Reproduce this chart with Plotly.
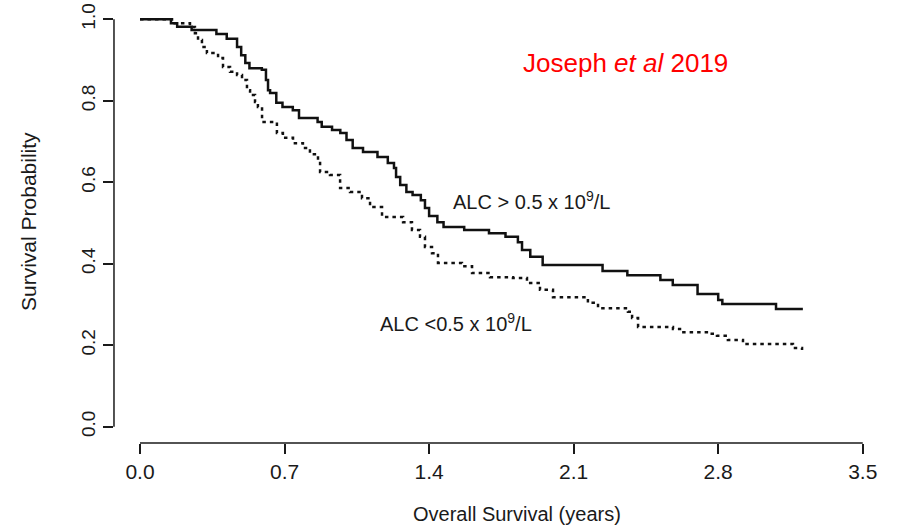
import plotly.graph_objects as go

# Kaplan-Meier step data (time in years, survival probability)
high_t = [0, 0.15, 0.18, 0.25, 0.37, 0.42, 0.47, 0.49, 0.51, 0.53, 0.59, 0.61, 0.62, 0.63,
          0.66, 0.69, 0.74, 0.77, 0.86, 0.88, 0.93, 0.97, 1.00, 1.03, 1.08, 1.15, 1.20,
          1.23, 1.24, 1.26, 1.29, 1.32, 1.36, 1.38, 1.40, 1.44, 1.47, 1.57, 1.69, 1.77,
          1.83, 1.85, 1.89, 1.95, 2.24, 2.36, 2.52, 2.58, 2.70, 2.80, 2.82, 3.08, 3.21]
high_s = [1.0, 0.990, 0.982, 0.974, 0.964, 0.952, 0.932, 0.912, 0.893, 0.880, 0.876, 0.851,
          0.826, 0.819, 0.795, 0.785, 0.777, 0.758, 0.748, 0.736, 0.728, 0.721, 0.704, 0.684,
          0.674, 0.662, 0.647, 0.635, 0.613, 0.593, 0.576, 0.569, 0.556, 0.537, 0.517, 0.502,
          0.490, 0.483, 0.475, 0.466, 0.453, 0.434, 0.417, 0.397, 0.382, 0.372, 0.360, 0.348,
          0.326, 0.311, 0.301, 0.289, 0.289]

low_t = [0, 0.155, 0.242, 0.266, 0.281, 0.300, 0.324, 0.378, 0.402, 0.436, 0.470, 0.494,
         0.518, 0.533, 0.557, 0.571, 0.591, 0.663, 0.692, 0.741, 0.789, 0.823, 0.862, 0.872,
         0.920, 0.969, 1.017, 1.075, 1.114, 1.172, 1.274, 1.317, 1.356, 1.380, 1.414, 1.443,
         1.559, 1.608, 1.695, 1.806, 1.874, 1.937, 2.000, 2.169, 2.218, 2.363, 2.383, 2.412,
         2.581, 2.615, 2.760, 2.794, 2.847, 2.920, 3.162, 3.206]
low_s = [1.0, 0.990, 0.981, 0.966, 0.949, 0.932, 0.917, 0.905, 0.883, 0.871, 0.863, 0.851,
         0.826, 0.814, 0.797, 0.785, 0.748, 0.721, 0.709, 0.696, 0.684, 0.669, 0.655, 0.625,
         0.618, 0.586, 0.576, 0.561, 0.539, 0.515, 0.502, 0.483, 0.466, 0.441, 0.426, 0.402,
         0.394, 0.377, 0.367, 0.365, 0.353, 0.336, 0.318, 0.304, 0.291, 0.282, 0.267, 0.245,
         0.240, 0.232, 0.228, 0.223, 0.213, 0.203, 0.193, 0.188]

x_ticks = [0.0, 0.7, 1.4, 2.1, 2.8, 3.5]
x_tick_labels = ["0.0", "0.7", "1.4", "2.1", "2.8", "3.5"]
y_ticks = [0.0, 0.2, 0.4, 0.6, 0.8, 1.0]
y_tick_labels = ["0.0", "0.2", "0.4", "0.6", "0.8", "1.0"]

W, H = 897, 527
FONT = "Liberation Sans, Arial, Helvetica, sans-serif"
INK = "#1a1a1a"

fig = go.Figure()
fig.add_trace(go.Scatter(x=high_t, y=high_s, mode="lines", line_shape="hv",
                         line=dict(color="#111111", width=2.5), name="ALC > 0.5",
                         showlegend=False))
fig.add_trace(go.Scatter(x=low_t, y=low_s, mode="lines", line_shape="hv",
                         line=dict(color="#111111", width=2.5, dash="3.5px,4px"),
                         name="ALC < 0.5", showlegend=False))

x0_px, x_scale = 140.0, 206.5
y0_px, y_scale = 426.7, 407.4
xr = [-0.126, 3.626]
yr = [-0.04, 1.04]
xdom = [(x0_px + xr[0] * x_scale) / W, (x0_px + xr[1] * x_scale) / W]
ydom = [(H - (y0_px - yr[0] * y_scale)) / H, (H - (y0_px - yr[1] * y_scale)) / H]

fig.update_layout(
    width=W, height=H,
    margin=dict(l=0, r=0, t=0, b=0),
    paper_bgcolor="white", plot_bgcolor="white",
    font=dict(family=FONT, color=INK, size=19),
    xaxis=dict(domain=xdom, range=xr, anchor="y", showgrid=False, zeroline=False,
               showline=False, ticks="outside", ticklen=10, tickwidth=1.5, tickcolor=INK,
               tickvals=x_ticks, ticktext=x_tick_labels, automargin=False,
               tickfont=dict(size=21, family=FONT, color=INK)),
    yaxis=dict(domain=ydom, range=yr, anchor="x", showgrid=False, zeroline=False,
               showline=False, ticks="outside", ticklen=10, tickwidth=1.5, tickcolor=INK,
               tickvals=y_ticks, ticktext=y_tick_labels, tickangle=-90, automargin=False,
               tickfont=dict(size=19, family=FONT, color=INK)),
)

# R-style detached axis lines spanning first to last tick
fig.add_shape(type="line", xref="x", yref="paper", x0=x_ticks[0], x1=x_ticks[-1],
              y0=ydom[0], y1=ydom[0], line=dict(color=INK, width=1.5))
fig.add_shape(type="line", xref="paper", yref="y", x0=xdom[0], x1=xdom[0],
              y0=y_ticks[0], y1=y_ticks[-1], line=dict(color=INK, width=1.5))

def ann(text, px, py, size, color=INK, angle=0):
    fig.add_annotation(text=text, xref="paper", yref="paper", x=px / W, y=1 - py / H,
                       xanchor="center", yanchor="middle", showarrow=False,
                       textangle=angle, font=dict(family=FONT, size=size, color=color))

ann("Overall Survival (years)", 517, 514, 20)
ann("Survival Probability", 28, 222, 21, angle=-90)
ann("ALC &gt; 0.5 x 10<sup>9</sup>/L", 531, 200, 20)
ann("ALC &lt;0.5 x 10<sup>9</sup>/L", 456, 322, 20)
ann("Joseph <i>et al</i> 2019", 625, 63, 26, color="#ff0000")

fig.write_html("out.html", config={"displayModeBar": False},
               post_script="document.body.style.margin='0px';document.body.style.overflow='hidden';")
